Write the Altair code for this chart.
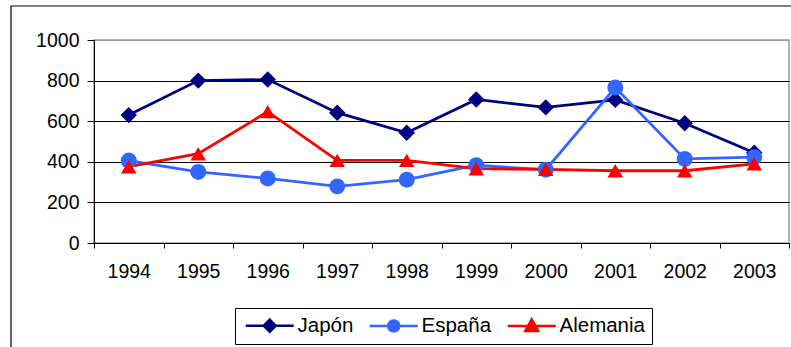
import altair as alt
import pandas as pd

# Series values by year
years = ["1994", "1995", "1996", "1997", "1998", "1999", "2000", "2001", "2002", "2003"]
japon = [630, 800, 805, 642, 543, 707, 668, 705, 590, 445]
espana = [406, 350, 318, 279, 312, 383, 361, 766, 414, 423]
alemania = [376, 440, 647, 407, 407, 366, 363, 356, 356, 390]

series_names = ["Japón", "España", "Alemania"]
series_colors = ["#000080", "#3366FF", "#FF0000"]
series_shapes = ["diamond", "circle", "triangle-up"]
y_ticks = [0, 200, 400, 600, 800, 1000]

rows = []
for name, vals in zip(series_names, [japon, espana, alemania]):
    for yr, v in zip(years, vals):
        rows.append({"Año": yr, "Serie": name, "Valor": v})
df = pd.DataFrame(rows)

FONT = "Liberation Sans"
FS = 19.5

# Legend symbols: a short line with the series marker in its middle
legend_paths = [
    "M-1.3,0H8.3M3.5,-1.2L4.7,0L3.5,1.2L2.3,0Z",
    "M-1.3,0H8.3M2.4,0A1.1,1.1 0 1,0 4.6,0A1.1,1.1 0 1,0 2.4,0Z",
    "M-1.3,0H8.3M3.5,-1.3L4.8,1L2.2,1Z",
]

legend = alt.Legend(
    title=None,
    orient="none",
    legendX=141,
    legendY=268,
    direction="horizontal",
    strokeColor="black",
    padding=7,
    labelFont=FONT,
    labelFontSize=20.5,
    labelColor="black",
    labelOffset=35,
    columnPadding=10,
    symbolSize=100,
    symbolStrokeWidth=2.5,
    symbolOpacity=1,
)

x_enc = alt.X(
    "Año:O",
    sort=years,
    scale=alt.Scale(type="band", paddingInner=0, paddingOuter=0),
    axis=alt.Axis(
        title=None,
        labelAngle=0,
        tickBand="extent",
        tickSize=5,
        tickColor="black",
        domainColor="black",
        labelFont=FONT,
        labelFontSize=FS,
        labelColor="black",
        labelPadding=14,
        grid=False,
    ),
)
y_enc = alt.Y(
    "Valor:Q",
    scale=alt.Scale(domain=[0, 1000], nice=False),
    axis=alt.Axis(
        title=None,
        values=y_ticks,
        format="d",
        tickSize=7,
        tickColor="black",
        domainColor="black",
        labelFont=FONT,
        labelFontSize=FS,
        labelColor="black",
        labelPadding=8,
        grid=True,
        gridColor=alt.condition("datum.value == 1000", alt.value("#999999"), alt.value("black")),
        gridWidth=1,
    ),
)


def color_scale():
    return alt.Scale(domain=series_names, range=series_colors)


base = alt.Chart(df)

lines = base.mark_line(strokeWidth=2.8).encode(
    x=x_enc, y=y_enc,
    color=alt.Color("Serie:N", sort=series_names, scale=color_scale(), legend=None),
    detail="Serie:N",
)

points = base.mark_point(filled=True, opacity=1).encode(
    x=x_enc,
    y=y_enc,
    color=alt.Color("Serie:N", sort=series_names, scale=color_scale(), legend=None),
    shape=alt.Shape("Serie:N", sort=series_names,
                    scale=alt.Scale(domain=series_names, range=series_shapes), legend=None),
    size=alt.Size("Serie:N", sort=series_names,
                  scale=alt.Scale(domain=series_names, range=[270, 240, 300]), legend=None),
)

# Legend-only layer: no rows drawn, the legend comes from the explicit domains
key = base.transform_filter("false").mark_point(
    filled=True, opacity=1, size=100, strokeWidth=2.5
).encode(
    x=x_enc,
    y=y_enc,
    color=alt.Color("Serie:N", sort=series_names, scale=color_scale(), legend=legend),
    stroke=alt.Stroke("Serie:N", sort=series_names, scale=color_scale(), legend=legend),
    shape=alt.Shape("Serie:N", sort=series_names,
                    scale=alt.Scale(domain=series_names, range=legend_paths), legend=legend),
)

# Outer frame around the whole figure
frame = alt.Chart(alt.Data(values=[{}])).mark_rect(
    fill=None, stroke="black", strokeWidth=1.2
).encode(
    x=alt.value(-83), x2=alt.value(720), y=alt.value(-34), y2=alt.value(330)
)

chart = (
    alt.layer(frame, lines, points, key)
    .resolve_scale(shape="independent", size="independent",
                   color="independent", stroke="independent")
    .properties(
        width=695,
        height=203,
        autosize=alt.AutoSizeParams(type="none"),
        padding={"left": 94, "top": 40, "right": 2, "bottom": 104},
        background="white",
    )
    .configure_view(stroke="#999999", strokeWidth=1.5)
)

chart.save("out.html", embed_options={"renderer": "svg", "actions": False})
